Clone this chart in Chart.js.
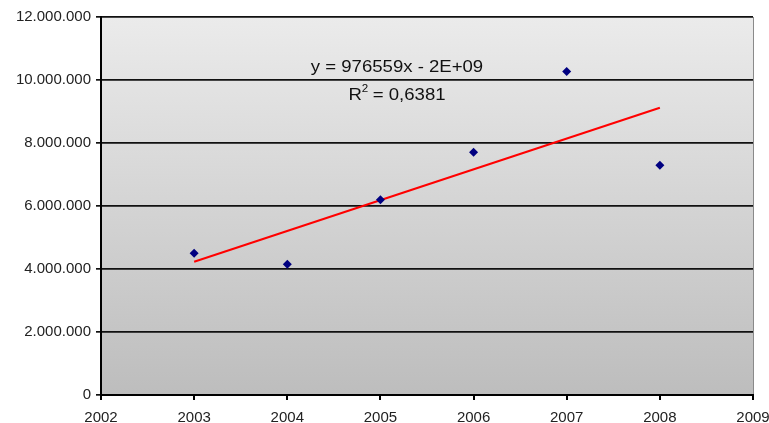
<!DOCTYPE html>
<html><head><meta charset="utf-8">
<script src="https://cdn.jsdelivr.net/npm/chart.js@4/dist/chart.umd.min.js"></script>
<style>html,body{margin:0;padding:0;background:#fff}#wrap{width:769px;height:423px}</style>
</head><body><div id="wrap"><canvas id="c"></canvas></div>
<script>
const years = [2003, 2004, 2005, 2006, 2007, 2008];
const values = [4500000, 4150000, 6200000, 7710000, 10270000, 7290000];
const trendYears = [2003, 2008];
const trendValues = [4230000, 9120000];
const equationText = 'y = 976559x - 2E+09';
const r2Label = 'R';
const r2Value = ' = 0,6381';

function fmt(v){return String(Math.round(v)).replace(/\B(?=(\d{3})+(?!\d))/g,'.');}

const FONT = '"Liberation Sans", Arial, sans-serif';

const bgPlugin = {
  id:'bg',
  beforeDraw(chart){
    const {ctx, chartArea:a} = chart;
    const g = ctx.createLinearGradient(0,a.top,0,a.bottom);
    g.addColorStop(0,'#ebebeb'); g.addColorStop(1,'#bdbdbd');
    ctx.save(); ctx.fillStyle=g; ctx.fillRect(a.left,a.top,a.right-a.left,a.bottom-a.top);
    ctx.strokeStyle='#8a8a8a'; ctx.lineWidth=1;
    ctx.beginPath(); ctx.moveTo(a.right+0.5,a.top); ctx.lineTo(a.right+0.5,a.bottom); ctx.stroke();
    ctx.restore();
  },
  afterDatasetsDraw(chart){
    const {ctx} = chart;
    const cx = 397;
    const sxScale = 1.16;
    ctx.save();
    ctx.translate(cx, 0);
    ctx.scale(sxScale, 1);
    ctx.fillStyle='#111'; ctx.font='16px ' + FONT;
    ctx.textAlign='center'; ctx.textBaseline='middle';
    ctx.fillText(equationText, 0, 68);
    const w1 = ctx.measureText(r2Label).width, w2 = ctx.measureText(r2Value).width;
    const sx = -(w1+5+w2)/2;
    ctx.textAlign='left';
    ctx.fillText(r2Label, sx, 96);
    ctx.font='10px ' + FONT;
    ctx.fillText('2', sx+w1, 89);
    ctx.font='16px ' + FONT;
    ctx.fillText(r2Value, sx+w1+5, 96);
    ctx.restore();
  }
};

new Chart(document.getElementById('c'), {
  type:'scatter',
  data:{datasets:[
    {label:'trend', type:'line', data:trendYears.map((x,i)=>({x, y:trendValues[i]})),
     borderColor:'#ff0000', borderWidth:2, pointRadius:0, fill:false, order:2},
    {label:'data', data:years.map((x,i)=>({x, y:values[i]})),
     pointStyle:'rectRot', pointRadius:4.5, backgroundColor:'#000080', borderColor:'#000080', borderWidth:0, order:1}
  ]},
  options:{
    responsive:true, maintainAspectRatio:false, animation:false,
    layout:{padding:{top:17,right:16,left:0,bottom:0}},
    plugins:{legend:{display:false}, tooltip:{enabled:false}},
    scales:{
      x:{type:'linear', min:2002, max:2009,
        afterFit(s){s.height=28; s.paddingRight=0; s.paddingLeft=0;},
        ticks:{stepSize:1, color:'#222', font:{family:FONT, size:15}, padding:9, callback:v=>String(v), maxRotation:0},
        grid:{drawOnChartArea:false, drawTicks:true, tickLength:5, color:'#000', lineWidth:2},
        border:{color:'#000', width:2}},
      y:{min:0, max:12000000,
        afterFit(s){s.width=101; s.paddingTop=0; s.paddingBottom=0;},
        ticks:{stepSize:2000000, color:'#222', font:{family:FONT, size:15}, padding:5, callback:v=>fmt(v)},
        grid:{color:'#111', lineWidth:1.7, tickLength:5},
        border:{color:'#000', width:2}}
    }
  },
  plugins:[bgPlugin]
});
</script></body></html>
